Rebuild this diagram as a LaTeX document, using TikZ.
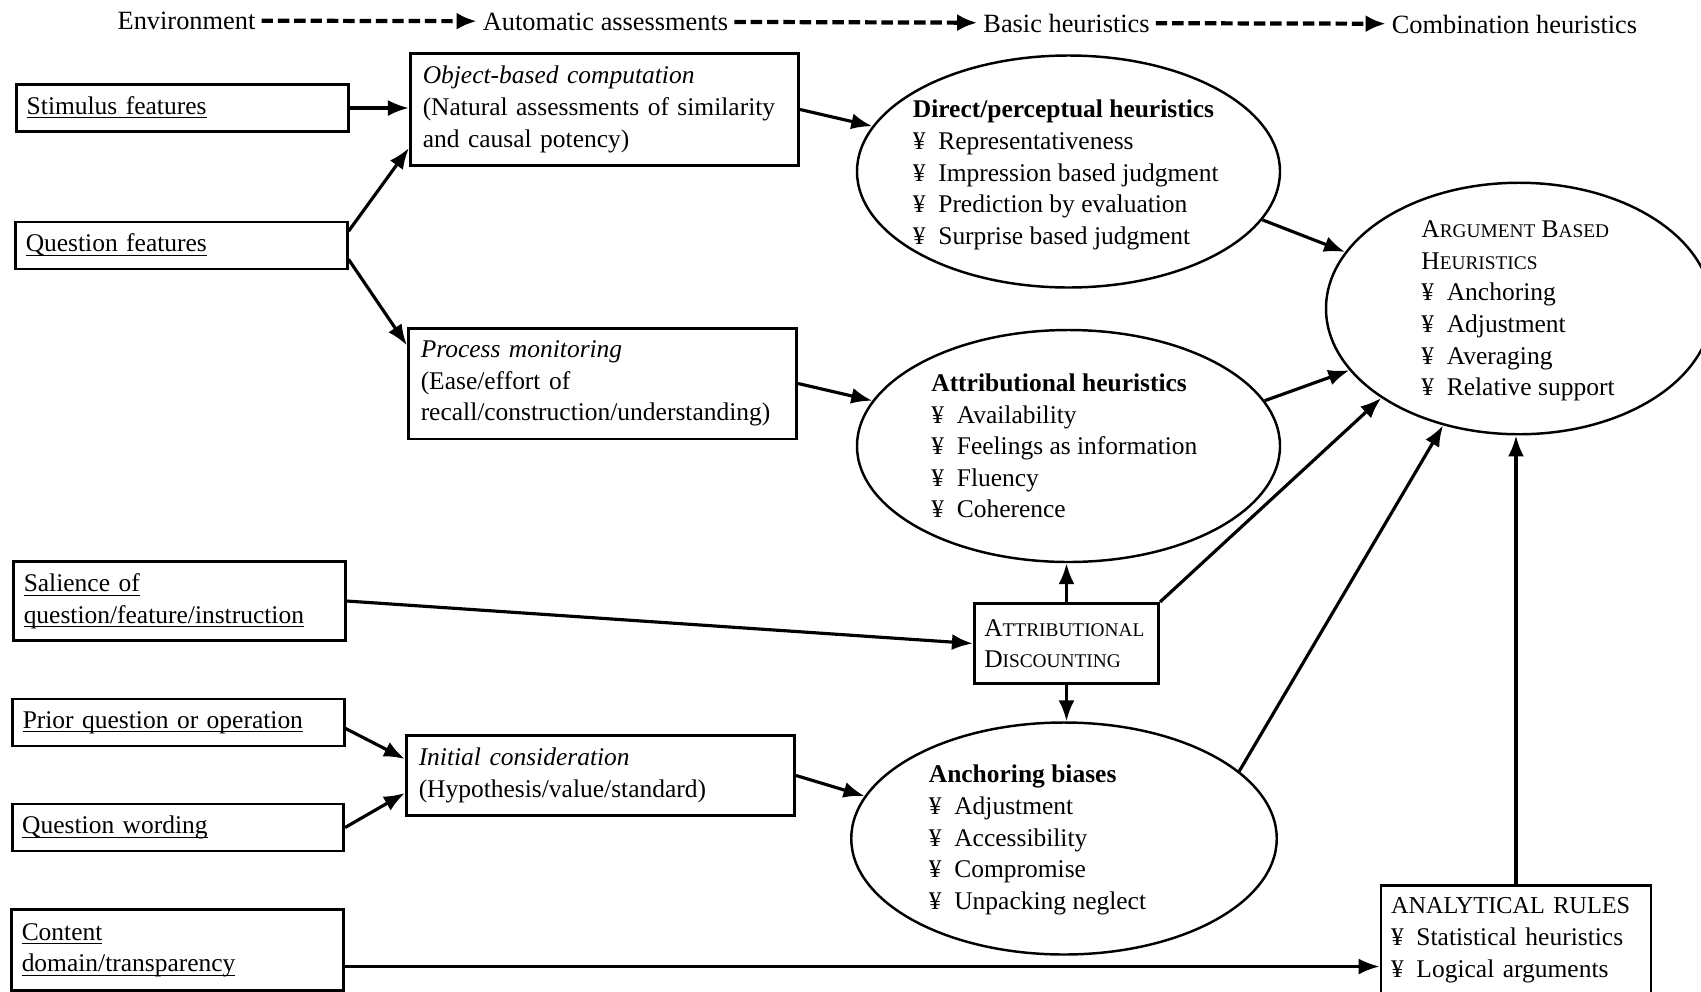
\documentclass[tikz,border=0pt]{standalone}
\usepackage{amsmath}
\usepackage{fontspec}
\setmainfont{Liberation Serif}
\usetikzlibrary{arrows.meta,shapes.geometric}

\newcommand{\fsc}[2]{#1{\fontsize{11}{18}\selectfont #2}}
\newcommand{\ybul}{¥\enspace}
\newcommand{\uln}[1]{\underline{\smash[b]{#1}}}

\tikzset{
  inbox/.style = {draw, line width=1.5pt, text width=6.23cm, inner xsep=0.2cm, minimum height=0.94cm, align=left},
  procbox/.style = {draw, line width=1.5pt, text width=7.27cm, inner xsep=0.25cm, inner ysep=0.25cm, align=left},
  discbox/.style = {draw, line width=1.5pt, text width=3.29cm, inner xsep=0.2cm, minimum height=1.61cm, align=left},
  rulebox/.style = {draw, line width=1.5pt, text width=5cm, inner xsep=0.2cm, inner ysep=0.25cm, align=left, anchor=north},
  heur/.style = {draw, ellipse, line width=1.4pt, inner sep=0pt, minimum width=8.46cm, minimum height=4.64cm},
  heurlist/.style = {anchor=west, align=left, inner sep=0pt},
  link/.style = {line width=1.8pt, ->},
  stage/.style = {line width=2.4pt, dash pattern=on 6.5pt off 2.8pt, -{Latex[length=0.4cm,width=0.34cm]}},
}

\begin{document}
\begin{tikzpicture}[font=\fontsize{14.5}{18}\selectfont, >={Latex[length=0.42cm,width=0.32cm]}]
\useasboundingbox (0,0) rectangle (34.02,-19.82);
\clip (0,0) rectangle (34.02,-19.82);

% stages
\node[font=\fontsize{15}{18}\selectfont] (env) at (3.73,-0.41) {Environment};
\node[font=\fontsize{15}{18}\selectfont] (autoass) at (12.11,-0.43) {Automatic assessments};
\node[font=\fontsize{15}{18}\selectfont] (basic) at (21.33,-0.46) {Basic heuristics};
\node[font=\fontsize{15}{18}\selectfont] (comb) at (30.29,-0.48) {Combination heuristics};
\draw[stage] (env) -- (autoass);
\draw[stage] (autoass) -- (basic);
\draw[stage] (basic) -- (comb);

% environment
\node[inbox] (stim) at (3.65,-2.16) {\uln{Stimulus features}};
\node[inbox] (qfeat) at (3.63,-4.91) {\uln{Question features}};
\node[inbox, minimum height=1.58cm] (sal) at (3.59,-12.02) {\uln{Salience of}\\\uln{question/feature/instruction}};
\node[inbox] (prior) at (3.57,-14.45) {\uln{Prior question or operation}};
\node[inbox] (qword) at (3.56,-16.55) {\uln{Question wording}};
\node[inbox, minimum height=1.62cm] (content) at (3.55,-19.0) {\uln{Content}\\\uln{domain/transparency}};

% automatic assessments
\node[procbox] (objcomp) at (12.09,-2.19) {\textit{Object-based computation}\\(Natural assessments of similarity\\and causal potency)};
\node[procbox] (procmon) at (12.05,-7.67) {\textit{Process monitoring}\\(Ease/effort of\\recall/construction/understanding)};
\node[procbox, minimum height=1.56cm] (initcons) at (12.01,-15.51) {\textit{Initial consideration}\\(Hypothesis/value/standard)};

% basic heuristics
\node[heur] (direct) at (21.37,-3.43) {};
\node[heurlist] (directtxt) at (18.25,-3.5) {\textbf{Direct/perceptual heuristics}\\\ybul Representativeness\\\ybul Impression based judgment\\\ybul Prediction by evaluation\\\ybul Surprise based judgment};
\node[heur] (attrib) at (21.37,-8.92) {};
\node[heurlist] (attribtxt) at (18.62,-8.92) {\textbf{Attributional heuristics}\\\ybul Availability\\\ybul Feelings as information\\\ybul Fluency\\\ybul Coherence};
\node[heur, minimum width=8.51cm] (anchb) at (21.28,-16.77) {};
\node[heurlist] (anchbtxt) at (18.57,-16.8) {\textbf{Anchoring biases}\\\ybul Adjustment\\\ybul Accessibility\\\ybul Compromise\\\ybul Unpacking neglect};
\node[discbox] (attdisc) at (21.33,-12.87) {\fsc{A}{TTRIBUTIONAL}\\\fsc{D}{ISCOUNTING}};

% combination heuristics
\node[heur, minimum width=7.72cm, minimum height=5.03cm] (argb) at (30.38,-6.17) {};
\node[heurlist] (argbtxt) at (28.42,-6.22) {\fsc{A}{RGUMENT} \fsc{B}{ASED}\\\fsc{H}{EURISTICS}\\\ybul Anchoring\\\ybul Adjustment\\\ybul Averaging\\\ybul Relative support};
\node[rulebox] (anrules) at (30.32,-17.68) {{\fontsize{13.8}{18}\selectfont ANALYTICAL RULES}\\\ybul Statistical heuristics\\\ybul Logical arguments};

% links
\draw[link] (stim.east) -- (stim.east -| objcomp.west);
\draw[link] ([yshift=-0.21cm]qfeat.north east) -- ([yshift=0.37cm]objcomp.south west);
\draw[link] ([yshift=0.22cm]qfeat.south east) -- ([yshift=-0.37cm]procmon.north west);
\draw[link] ([yshift=-0.12cm]prior.east) -- ([yshift=0.33cm]initcons.west);
\draw[link] (qword.east) -- ([yshift=-0.35cm]initcons.west);
\draw[link] (sal.east) -- (attdisc.west);
\draw[link] ([yshift=-0.33cm]content.east) -- ([yshift=-0.33cm]content.east -| anrules.west);
\draw[link] (objcomp.east) -- (direct.167);
\draw[link] (procmon.east) -- (attrib.167);
\draw[link] (initcons.east) -- (anchb.168);
\draw[link] (attdisc.north) -- (attdisc.north |- attrib.south);
\draw[link] (attdisc.south) -- (attdisc.south |- anchb.north);
\draw[link] (direct.346) -- (argb.162);
\draw[link] (attrib.13) -- (argb.200);
\draw[link] (attdisc.north east) -- (argb.213);
\draw[link] (anchb.21) -- (argb.237);
\draw[link] (anrules.north) -- (anrules.north |- argb.south);
\end{tikzpicture}
\end{document}
